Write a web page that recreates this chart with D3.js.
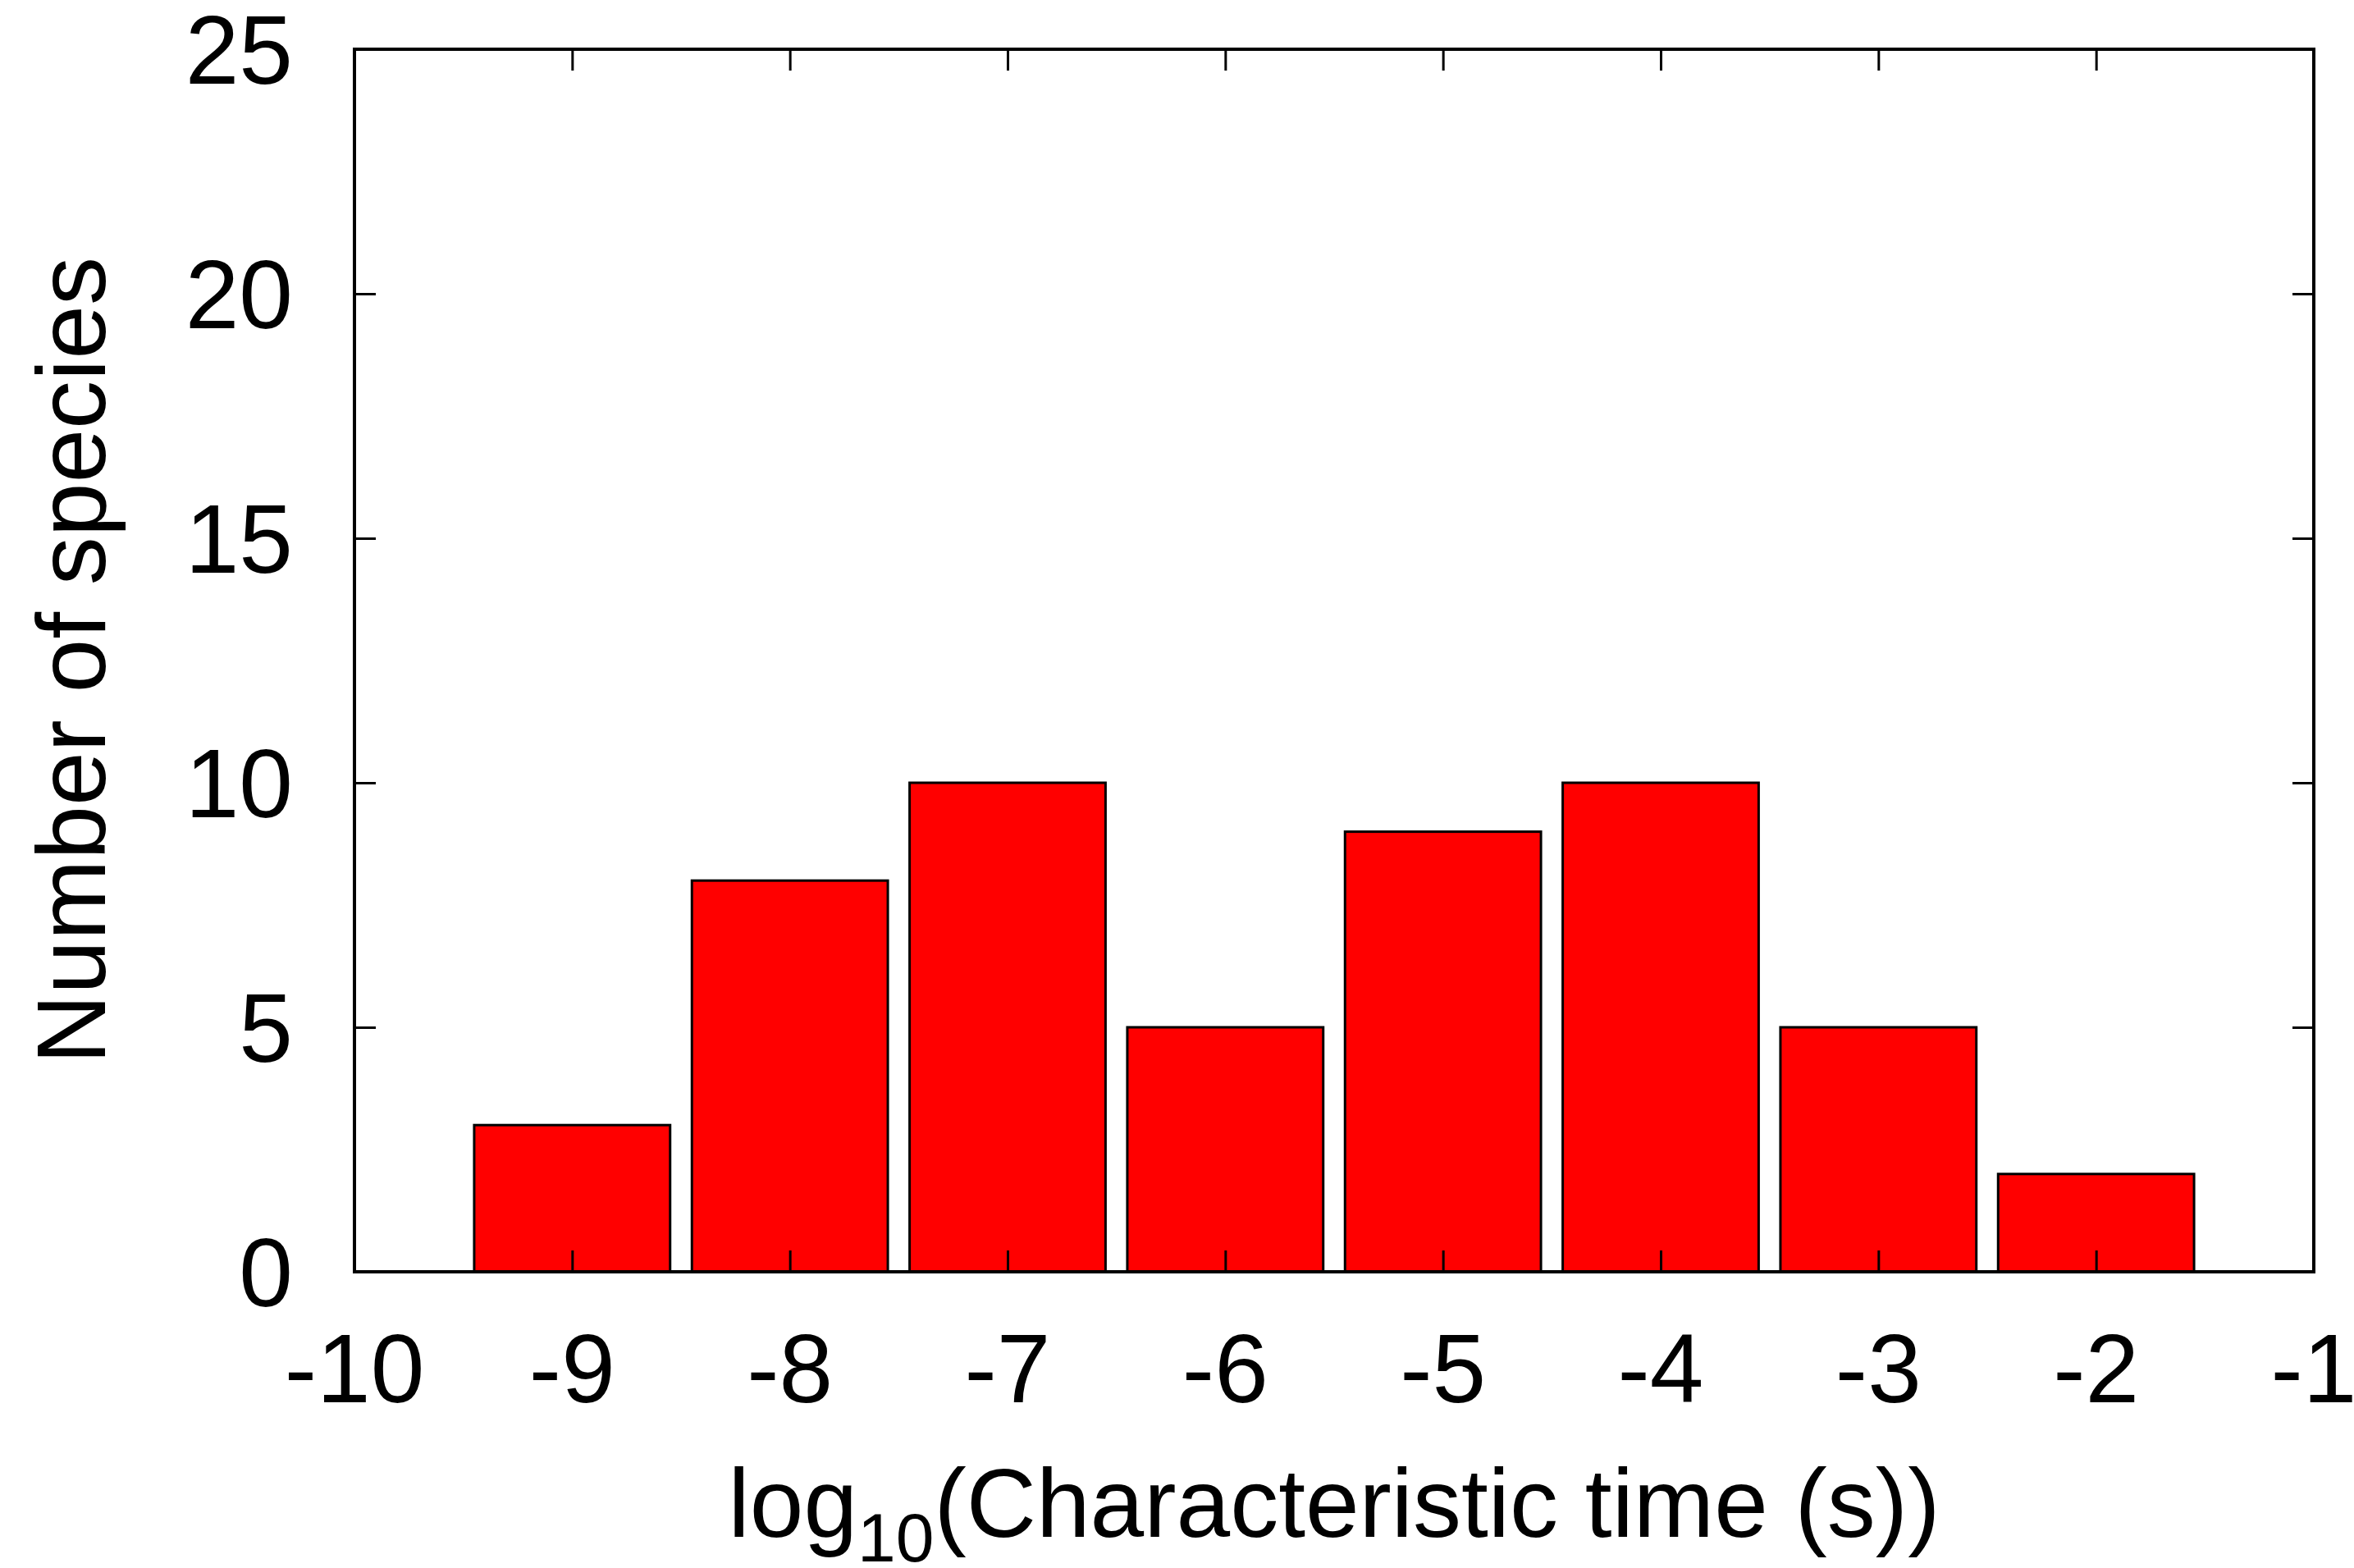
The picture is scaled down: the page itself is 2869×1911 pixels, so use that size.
<!DOCTYPE html>
<html>
<head>
<meta charset="utf-8">
<script src="https://cdn.jsdelivr.net/npm/d3@7"></script>
<style>
  html, body { margin: 0; padding: 0; background: #fff; }
  text { font-family: "Liberation Sans", Arial, Helvetica, sans-serif; fill: #000; }
</style>
</head>
<body>
<div id="chart"></div>
<script>
// bin centres (log10 of characteristic time) and counts per bin
const binCenters = [-9, -8, -7, -6, -5, -4, -3, -2];
const speciesCounts = [3, 8, 10, 5, 9, 10, 5, 2];
const xTicks = [-10, -9, -8, -7, -6, -5, -4, -3, -2, -1];
const yTicks = [0, 5, 10, 15, 20, 25];
const binWidth = 0.9;

const width = 2869;
const height = 1911;
const margin = { top: 60, right: 49, bottom: 361, left: 432 };
const innerW = width - margin.left - margin.right;
const innerH = height - margin.top - margin.bottom;

const svg = d3.select("#chart")
  .append("svg")
  .attr("width", width)
  .attr("height", height);

const g = svg.append("g")
  .attr("transform", `translate(${margin.left},${margin.top})`);

const x = d3.scaleLinear().domain([-10, -1]).range([0, innerW]);
const y = d3.scaleLinear().domain([0, 25]).range([innerH, 0]);

const data = binCenters.map((c, i) => ({ center: c, count: speciesCounts[i] }));

// bars
g.selectAll("rect.bar")
  .data(data)
  .enter()
  .append("rect")
  .attr("class", "bar")
  .attr("x", d => x(d.center - binWidth / 2))
  .attr("width", d => x(d.center + binWidth / 2) - x(d.center - binWidth / 2))
  .attr("y", d => y(d.count))
  .attr("height", d => y(0) - y(d.count))
  .attr("fill", "#ff0000")
  .attr("stroke", "#000")
  .attr("stroke-width", 3);

// inward ticks on all four sides (gnuplot style)
const tickLen = 26;
function styleAxis(sel) {
  sel.select(".domain").remove();
  sel.selectAll(".tick line").attr("stroke", "#000").attr("stroke-width", 3);
  sel.selectAll(".tick text").remove();
}

g.append("g")
  .attr("transform", `translate(0,${innerH})`)
  .call(d3.axisBottom(x).tickValues(xTicks).tickSize(-tickLen))
  .call(styleAxis);
g.append("g")
  .call(d3.axisTop(x).tickValues(xTicks).tickSize(-tickLen))
  .call(styleAxis);
g.append("g")
  .call(d3.axisLeft(y).tickValues(yTicks).tickSize(-tickLen))
  .call(styleAxis);
g.append("g")
  .attr("transform", `translate(${innerW},0)`)
  .call(d3.axisRight(y).tickValues(yTicks).tickSize(-tickLen))
  .call(styleAxis);

// frame
g.append("rect")
  .attr("width", innerW)
  .attr("height", innerH)
  .attr("fill", "none")
  .attr("stroke", "#000")
  .attr("stroke-width", 4);

// tick labels
const fontSize = 118;
g.selectAll("text.xlab")
  .data(xTicks)
  .enter()
  .append("text")
  .attr("class", "xlab")
  .attr("x", d => x(d))
  .attr("y", innerH + 159)
  .attr("text-anchor", "middle")
  .style("font-size", fontSize + "px")
  .text(d => d);

g.selectAll("text.ylab")
  .data(yTicks)
  .enter()
  .append("text")
  .attr("class", "ylab")
  .attr("x", -75)
  .attr("y", d => y(d) + 42)
  .attr("text-anchor", "end")
  .style("font-size", fontSize + "px")
  .text(d => d);

// axis titles
svg.append("text")
  .attr("transform", `translate(128,${margin.top + innerH / 2}) rotate(-90)`)
  .attr("text-anchor", "middle")
  .style("font-size", fontSize + "px")
  .text("Number of species");

const xt = svg.append("text")
  .attr("x", margin.left + innerW / 2)
  .attr("y", 1873)
  .attr("text-anchor", "middle")
  .style("font-size", fontSize + "px");
xt.append("tspan").text("log");
xt.append("tspan").attr("dy", 30).style("font-size", "84px").text("10");
xt.append("tspan").attr("dy", -30).text("(Characteristic time (s))");
</script>
</body>
</html>
